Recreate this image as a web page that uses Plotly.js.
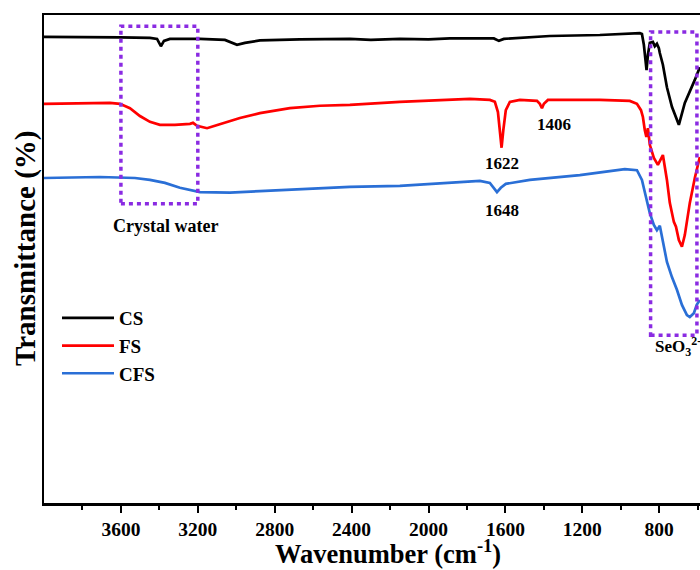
<!DOCTYPE html>
<html>
<head>
<meta charset="utf-8">
<script src="https://cdn.plot.ly/plotly-3.0.1.min.js"></script>
<style>html,body{margin:0;padding:0;background:#fff;}#chart{width:700px;height:570px;}</style>
</head>
<body>
<div id="chart"></div>
<script>
// ---- Data ----
const seriesNames = ["CS", "FS", "CFS"];
const seriesColors = ["#000000", "#ff0000", "#2a6fd6"];

const csWavenumber = [4000,3813,3605,3449,3412,3392,3376,3345,3189,3059,2996,2955,2877,2669,2409,2300,2149,2000,1889,1660,1634,1608,1369,1109,901,890,880,866,859,849,833,823,812,802,797,781,760,734,713,698,667,641,615,589];
const csT =          [95.5,95.5,95.4,95.3,95.1,93.6,94.7,95.1,95.1,94.9,93.9,94.3,94.8,95.0,95.1,94.9,95.1,95.0,95.2,95.2,94.7,95.1,95.7,95.9,96.3,96.1,93.9,88.7,91.8,94.3,94.5,93.6,94.1,93.2,92.2,89.8,85.2,81.2,79.0,77.5,82.0,84.2,86.7,89.3];

const fsWavenumber = [4000,3813,3657,3605,3553,3501,3449,3397,3319,3241,3225,3204,3152,3111,3059,2981,2877,2721,2565,2409,2149,1889,1785,1681,1655,1639,1629,1620,1611,1598,1577,1525,1436,1421,1410,1400,1379,1109,953,916,895,885,875,867,859,849,828,807,781,760,745,724,713,698,682,667,641,615,589];
const fsT =          [81.8,81.9,82.0,81.8,80.9,79.3,78.1,77.5,77.5,77.7,77.9,77.3,76.8,77.3,77.9,78.9,79.9,80.9,81.4,81.6,82.2,82.6,82.8,82.6,82.2,80.1,76.4,72.8,76.4,80.5,82.2,82.6,82.4,81.8,80.9,81.8,82.6,82.6,82.4,81.8,80.5,79.1,76.4,75.0,76.8,73.4,70.7,69.3,71.3,66.2,61.5,57.6,56.6,53.9,52.5,54.9,61.5,66.6,70.9];

const cfsWavenumber = [4000,3709,3527,3449,3371,3293,3189,3033,2877,2669,2409,2149,1889,1733,1681,1660,1644,1624,1598,1473,1213,1057,979,916,890,869,849,828,812,797,781,760,734,708,682,656,641,620,605,589];
const cfsT =          [66.6,66.8,66.6,66.2,65.6,64.6,63.7,63.6,63.9,64.3,64.8,65.0,65.6,66.0,65.6,64.6,63.7,64.6,65.4,66.2,67.2,68.0,68.4,68.2,66.2,62.7,59.4,57.0,55.9,56.8,53.9,49.4,46.3,43.7,40.6,38.5,38.1,38.9,40.6,41.6];

const majorTickVals = [3600,3200,2800,2400,2000,1600,1200,800];
const majorTickText = ["3600","3200","2800","2400","2000","1600","1200","800"];
const minorTickVals = [3800,3400,3000,2600,2200,1800,1400,1000,600];

// Peak / region labels
const labelTexts = ["1622", "1406", "1648", "Crystal water", "SeO<sub>3</sub><sup>2-</sup>"];
const labelX = [1616, 1345, 1616, 3366, 833];
const labelY = [69.6, 77.6, 60.0, 56.7, 32.0];
const labelSizes = [17, 17, 17, 18, 17];

// Dotted highlight boxes [x0, x1, y0, y1]
const boxCrystal = [3600, 3200, 61.3, 97.7];
const boxSeO3 = [845, 604, 34.4, 96.5];

// ---- Plot ----
const serif = "'Liberation Serif', 'Times New Roman', serif";
const xs = [csWavenumber, fsWavenumber, cfsWavenumber];
const ys = [csT, fsT, cfsT];

const traces = seriesNames.map((n, i) => ({
  x: xs[i], y: ys[i], name: n, type: "scatter", mode: "lines",
  line: {color: seriesColors[i], width: 2.7}
}));

const purple = "#8a2be2";
function box(b) {
  return {type: "rect", xref: "x", yref: "y", x0: b[0], x1: b[1], y0: b[2], y1: b[3],
          line: {color: purple, width: 3.5, dash: "4px,4px"}, fillcolor: "rgba(0,0,0,0)"};
}

const annotations = labelTexts.map((t, i) => ({
  x: labelX[i], y: labelY[i], xref: "x", yref: "y", text: t, showarrow: false,
  xanchor: i === 4 ? "left" : "center", yanchor: "middle",
  font: {family: serif, size: labelSizes[i], color: "#000", weight: "bold"}
}));

// Axis titles placed as annotations for exact positioning
annotations.push({
  xref: "paper", yref: "paper", x: (388 - 44) / 656, y: -(552 - 503) / 488,
  text: "Wavenumber (cm<sup>-1</sup>)", showarrow: false, xanchor: "center", yanchor: "middle",
  font: {family: serif, size: 26.5, color: "#000", weight: "bold"}
});
annotations.push({
  xref: "paper", yref: "paper", x: -(44 - 25) / 656, y: (503 - 249) / 488,
  text: "Transmittance (%)", showarrow: false, textangle: -90, xanchor: "center", yanchor: "middle",
  font: {family: serif, size: 29, color: "#000", weight: "bold"}
});

const layout = {
  width: 700, height: 570,
  margin: {l: 44, r: 0, t: 15, b: 67, pad: 0},
  paper_bgcolor: "#fff", plot_bgcolor: "#fff",
  showlegend: true,
  legend: {x: 13 / 656, y: (503 - 299) / 488, xanchor: "left", yanchor: "top",
           bgcolor: "rgba(0,0,0,0)", borderwidth: 0, tracegroupgap: 0, itemwidth: 52,
           font: {family: serif, size: 19, color: "#000", weight: "bold"}},
  xaxis: {
    range: [4000, 588], showgrid: false, zeroline: false,
    showline: true, linecolor: "#000", linewidth: 2.5, mirror: true,
    tickmode: "array", tickvals: majorTickVals, ticktext: majorTickText,
    ticks: "outside", ticklen: 7, tickwidth: 2, tickcolor: "#000",
    minor: {tickmode: "array", tickvals: minorTickVals, ticks: "outside", ticklen: 4, tickwidth: 2, tickcolor: "#000", showgrid: false},
    tickfont: {family: serif, size: 19.5, color: "#000", weight: "bold"}
  },
  yaxis: {
    range: [0, 100], showgrid: false, zeroline: false,
    showline: true, linecolor: "#000", linewidth: 2.5, mirror: false,
    ticks: "", showticklabels: false
  },
  shapes: [box(boxCrystal), box(boxSeO3)],
  annotations: annotations
};

Plotly.newPlot("chart", traces, layout, {displayModeBar: false, staticPlot: true});
</script>
</body>
</html>
